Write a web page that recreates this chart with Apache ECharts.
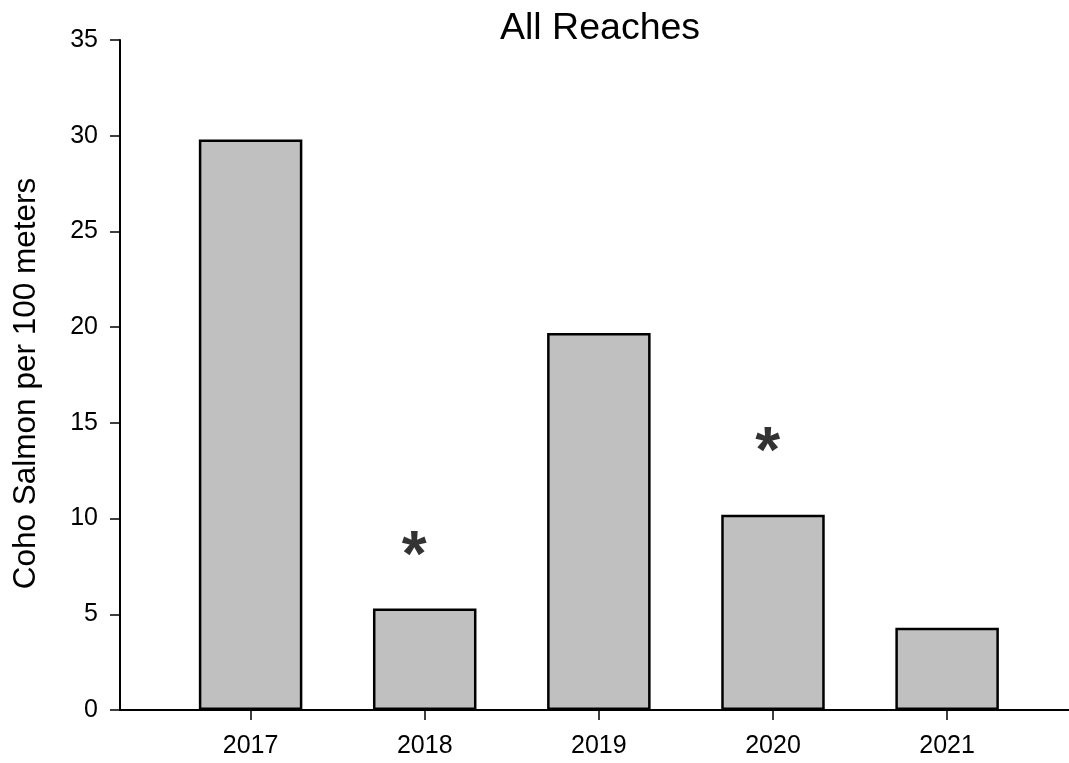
<!DOCTYPE html>
<html>
<head>
<meta charset="utf-8">
<script src="https://cdn.jsdelivr.net/npm/echarts@6/dist/echarts.min.js"></script>
<style>
html,body{margin:0;padding:0;background:#fff;}
#chart{width:1069px;height:763px;}
</style>
</head>
<body>
<div id="chart"></div>
<script>
const years = [2017, 2018, 2019, 2020, 2021];
const cohoPer100m = [29.8, 5.3, 19.7, 10.2, 4.3];
const asteriskX = [2017.94, 2019.97];
const asteriskY = [8.55, 14.0];
const yTicks = [0, 5, 10, 15, 20, 25, 30, 35];

const FONT = 'Liberation Sans, Arial, sans-serif';
const chart = echarts.init(document.getElementById('chart'), null, {renderer: 'canvas'});
chart.setOption({
  animation: false,
  backgroundColor: '#ffffff',
  title: {
    text: 'All Reaches',
    left: 495,
    top: 5,
    textStyle: {fontFamily: FONT, fontSize: 37.5, fontWeight: 'normal', color: '#000'}
  },
  grid: {left: 120, right: 0, top: 40, bottom: 53, containLabel: false},
  xAxis: {
    type: 'value',
    min: 2016.25,
    max: 2021.7,
    axisLine: {show: true, lineStyle: {color: '#000', width: 2}},
    axisTick: {show: true, inside: false, length: 10, customValues: years, lineStyle: {color: '#000', width: 1.5}},
    axisLabel: {show: true, customValues: years, margin: 24, formatter: v => String(v),
      fontFamily: FONT, fontSize: 25, color: '#000'},
    splitLine: {show: false}
  },
  yAxis: {
    type: 'value',
    min: yTicks[0],
    max: yTicks[yTicks.length - 1],
    interval: 5,
    name: 'Coho Salmon per 100 meters',
    nameLocation: 'middle',
    nameGap: 78,
    nameTextStyle: {fontFamily: FONT, fontSize: 31.5, color: '#000', padding: [0, 17, 0, 0]},
    axisLine: {show: true, lineStyle: {color: '#000', width: 2}},
    axisTick: {show: true, inside: false, length: 10, lineStyle: {color: '#000', width: 1.5}},
    axisLabel: {margin: 22, fontFamily: FONT, fontSize: 25, color: '#000'},
    splitLine: {show: false}
  },
  series: [
    {
      type: 'bar',
      data: years.map((y, i) => [y, cohoPer100m[i]]),
      barWidth: 103.5,
      itemStyle: {color: '#c0c0c0', borderColor: '#000', borderWidth: 2.5}
    },
    {
      type: 'scatter',
      symbolSize: 0,
      data: asteriskX.map((x, i) => [x, asteriskY[i]]),
      label: {
        show: true,
        position: 'inside',
        formatter: '*',
        fontFamily: FONT,
        fontSize: 64,
        fontWeight: 'bold',
        color: '#000',
        offset: [0, 12]
      },
      z: 5
    }
  ]
});
</script>
</body>
</html>
